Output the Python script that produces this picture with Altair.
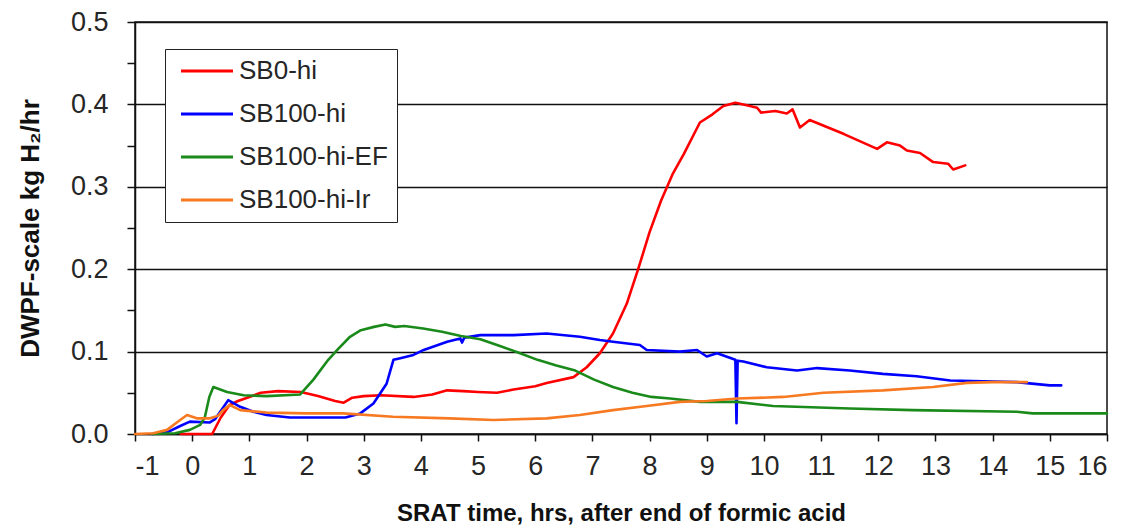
import altair as alt
import pandas as pd

series_names = ["SB0-hi", "SB100-hi", "SB100-hi-EF", "SB100-hi-Ir"]
series_colors = ["#FF0000", "#0000FF", "#1A8A1A", "#F77A22"]

sb0_x = [-0.2, 0.35, 0.5, 0.65, 0.8, 1.0, 1.2, 1.5, 1.9, 2.2, 2.5, 2.65, 2.8, 3.0, 3.3,
         3.87, 4.2, 4.46, 4.74, 5.0, 5.33, 5.62, 6.0, 6.2, 6.67, 6.9, 7.13, 7.36, 7.6,
         7.8, 8.0, 8.2, 8.4, 8.6, 8.88, 9.1, 9.29, 9.5, 9.7, 9.88, 9.95, 10.2, 10.4,
         10.5, 10.63, 10.8, 11.4, 11.98, 12.15, 12.38, 12.5, 12.73, 12.96, 13.22, 13.31, 13.52]
sb0_y = [0.0, 0.0, 0.02, 0.035, 0.04, 0.045, 0.05, 0.052, 0.051, 0.046, 0.04, 0.038, 0.044,
         0.046, 0.047, 0.045, 0.048, 0.053, 0.052, 0.051, 0.05, 0.054, 0.058, 0.062, 0.069,
         0.081, 0.098, 0.122, 0.158, 0.2, 0.245, 0.283, 0.315, 0.34, 0.378, 0.388, 0.398,
         0.402, 0.399, 0.396, 0.39, 0.392, 0.389, 0.394, 0.372, 0.381, 0.364, 0.346, 0.354,
         0.35, 0.344, 0.341, 0.33, 0.328, 0.321, 0.326]

sb100_x = [-0.7, -0.44, -0.2, -0.04, 0.31, 0.4, 0.63, 0.84, 1.07, 1.3, 1.71, 2.68, 2.94,
           3.17, 3.4, 3.52, 3.64, 3.87, 4.05, 4.46, 4.69, 4.72, 4.76, 5.04, 5.62, 6.2, 6.78,
           7.13, 7.36, 7.83, 7.95, 8.53, 8.83, 9.0, 9.18, 9.5, 9.52, 9.54, 9.64, 10.05,
           10.58, 10.93, 11.5, 12.08, 12.67, 13.26, 13.84, 14.42, 15.0, 15.2]
sb100_y = [0.0, 0.002, 0.01, 0.015, 0.014, 0.018, 0.041, 0.033, 0.027, 0.023, 0.02, 0.02,
           0.025, 0.037, 0.061, 0.09, 0.092, 0.096, 0.102, 0.112, 0.116, 0.111, 0.117, 0.12,
           0.12, 0.122, 0.118, 0.114, 0.112, 0.108, 0.102, 0.1, 0.102, 0.094, 0.098, 0.09,
           0.013, 0.089, 0.088, 0.081, 0.077, 0.08, 0.077, 0.073, 0.07, 0.065, 0.064, 0.063,
           0.059, 0.059]

ef_x = [-0.7, -0.3, -0.04, 0.14, 0.22, 0.3, 0.37, 0.61, 0.9, 1.3, 1.89, 2.12, 2.38, 2.55,
        2.76, 2.95, 3.18, 3.38, 3.55, 3.71, 4.04, 4.37, 4.7, 5.04, 5.37, 5.7, 6.04, 6.37,
        6.7, 7.03, 7.36, 7.7, 8.03, 8.36, 8.88, 9.53, 10.16, 11.5, 12.6, 14.42, 14.7, 16.0]
ef_y = [0.0, 0.001, 0.005, 0.011, 0.02, 0.045, 0.057, 0.051, 0.047, 0.046, 0.048, 0.066,
        0.09, 0.103, 0.118, 0.126, 0.13, 0.133, 0.13, 0.131, 0.128, 0.124, 0.119, 0.115,
        0.107, 0.099, 0.09, 0.083, 0.077, 0.066, 0.057, 0.05, 0.045, 0.043, 0.039, 0.039,
        0.034, 0.031, 0.029, 0.027, 0.025, 0.025]

ir_x = [-1.0, -0.68, -0.44, -0.21, -0.09, 0.08, 0.31, 0.45, 0.54, 0.66, 0.84, 1.3, 2.0,
        2.64, 3.51, 4.5, 5.27, 6.2, 6.78, 7.36, 7.95, 8.53, 9.0, 9.53, 10.34, 11.04, 12.08,
        12.96, 13.55, 14.0, 14.6]
ir_y = [0.0, 0.001, 0.005, 0.017, 0.023, 0.019, 0.019, 0.022, 0.029, 0.035, 0.029, 0.026,
        0.025, 0.025, 0.021, 0.019, 0.017, 0.019, 0.023, 0.029, 0.034, 0.039, 0.04, 0.043,
        0.045, 0.05, 0.053, 0.057, 0.062, 0.063, 0.063]

x_tick_values = [-1, 0, 1, 2, 3, 4, 5, 6, 7, 8, 9, 10, 11, 12, 13, 14, 15, 16]
y_tick_values = [0.0, 0.05, 0.1, 0.15, 0.2, 0.25, 0.3, 0.35, 0.4, 0.45, 0.5]

rows = []
for name, xs, ys in zip(series_names, [sb0_x, sb100_x, ef_x, ir_x], [sb0_y, sb100_y, ef_y, ir_y]):
    for i, (xv, yv) in enumerate(zip(xs, ys)):
        rows.append({"series": name, "t": xv, "rate": yv, "idx": i})
df = pd.DataFrame(rows)

major = "round(datum.value * 100) % 10 == 0"
FONT = "Liberation Sans"

chart = alt.Chart(df).mark_line(strokeWidth=2.6, strokeJoin="round", strokeCap="round").encode(
    x=alt.X("t:Q",
            scale=alt.Scale(domain=[-1, 16], nice=False, zero=False),
            axis=alt.Axis(values=x_tick_values, grid=False, tickSize=7, labelPadding=12,
                          labelExpr="'' + datum.value",
                          title="SRAT time, hrs, after end of formic acid", titlePadding=22,
                          titleFontSize=24)),
    y=alt.Y("rate:Q",
            scale=alt.Scale(domain=[0, 0.5], nice=False),
            axis=alt.Axis(values=y_tick_values,
                          labelExpr=f"({major}) ? format(datum.value, '.1f') : ''",
                          gridOpacity={"condition": {"test": major, "value": 1}, "value": 0},
                          tickSize=8, labelPadding=19,
                          title="DWPF-scale kg H₂/hr", titlePadding=27, titleFontSize=26)),
    color=alt.Color("series:N",
                    scale=alt.Scale(domain=series_names, range=series_colors),
                    legend=alt.Legend(title=None, orient="none", legendX=30, legendY=27,
                                      symbolType="M-2.6,0H2.6", symbolSize=400,
                                      symbolStrokeWidth=3, symbolOffset=20, labelOffset=19,
                                      padding=9, rowPadding=17, labelFontSize=26,
                                      labelFont=FONT, labelColor="#262626",
                                      strokeColor="#222222", fillColor="white")),
    order=alt.Order("idx:Q"),
).properties(
    width=972, height=412,
    autosize=alt.AutoSizeParams(type="none"),
    padding={"left": 127, "top": 14, "right": 5, "bottom": 96},
).configure_view(
    stroke="#111111", strokeWidth=1.5
).configure_axis(
    labelFont=FONT, labelFontSize=27, labelColor="#262626",
    titleFont=FONT, titleFontWeight="bold", titleColor="#111111",
    domainColor="#111111", domainWidth=1.5, tickColor="#111111", tickWidth=1.5,
    gridColor="#111111", gridWidth=1.5,
)

chart.save("out.html", embed_options={"renderer": "svg", "actions": False})
